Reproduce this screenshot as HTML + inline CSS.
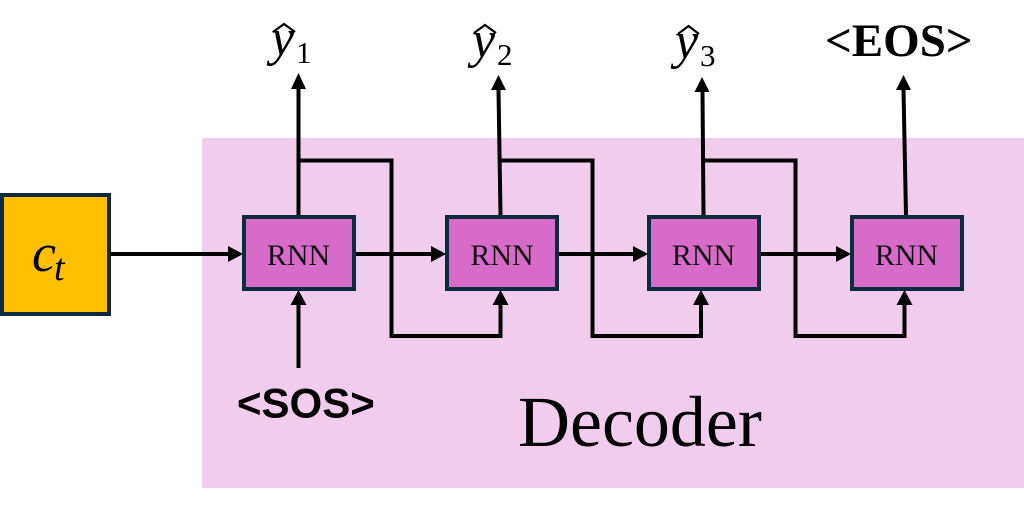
<!DOCTYPE html>
<html>
<head>
<meta charset="utf-8">
<style>
html,body{margin:0;padding:0;background:#fff;width:1024px;height:507px;overflow:hidden}
svg{display:block}
</style>
</head>
<body>
<svg width="1024" height="507" viewBox="0 0 1024 507" xmlns="http://www.w3.org/2000/svg">
<rect width="1024" height="507" fill="#fff"/>
<rect x="202" y="138" width="822" height="350" fill="#F1CDED"/>
<rect x="2" y="195" width="107" height="119" fill="#FFC000" stroke="#0E2A3E" stroke-width="4"/>
<g fill="none" stroke="#000" stroke-width="4">
<path d="M110 254H232"/>
<path d="M356 254H435"/>
<path d="M559 254H638"/>
<path d="M761 254H841"/>
<path d="M298.500 215V88"/>
<path d="M500.500 215L498.500 90"/>
<path d="M703.500 215L702.500 92"/>
<path d="M906 215L903.500 90"/>
<path d="M298.500 160.500H391.500V336H500.500V304"/>
<path d="M500.500 160.500H592.500V336H701V304"/>
<path d="M703 160.500H795.500V336H904.500V304"/>
<path d="M298.500 368V304"/>
</g>
<g fill="#000">
<path d="M243 254L228 246V262Z"/>
<path d="M446 254L431 246V262Z"/>
<path d="M648 254L633 246V262Z"/>
<path d="M851 254L836 246V262Z"/>
<path d="M298.500 73L291 89H306Z"/>
<path d="M498.500 75L491 90H506Z"/>
<path d="M702 77L694.500 92H709.500Z"/>
<path d="M903.500 75L896 90H911Z"/>
<path d="M298.500 290L290.500 305H306.500Z"/>
<path d="M500.500 290L492.500 305H508.500Z"/>
<path d="M701 290L693 305H709Z"/>
<path d="M904.500 290L896.500 305H912.500Z"/>
</g>
<g fill="#D66BC9" stroke="#0E2A3E" stroke-width="4">
<rect x="244" y="217" width="110" height="72"/>
<rect x="447" y="217" width="110" height="72"/>
<rect x="649" y="217" width="110" height="72"/>
<rect x="852" y="217" width="110" height="72"/>
</g>
<g font-family="'Liberation Serif',serif" font-size="30" fill="#111" text-anchor="middle">
<text x="298.500" y="265">RNN</text>
<text x="502" y="265">RNN</text>
<text x="703.500" y="265">RNN</text>
<text x="906.500" y="265">RNN</text>
</g>
<g font-family="'Liberation Serif',serif" fill="#000">
<text x="32" y="271" font-size="54" font-style="italic">c</text>
<text x="54" y="280" font-size="38" font-style="italic">t</text>
<text x="271" y="55" font-size="52" font-style="italic">y</text>
<text x="296" y="63" font-size="31">1</text>
<text x="472" y="57" font-size="52" font-style="italic">y</text>
<text x="497" y="65" font-size="31">2</text>
<text x="675" y="58" font-size="52" font-style="italic">y</text>
<text x="700" y="66" font-size="31">3</text>
<text x="825" y="56" font-size="47" font-weight="bold">&lt;EOS&gt;</text>
<text x="518" y="446" font-size="72">Decoder</text>
</g>
<g fill="none" stroke="#000" stroke-width="2.200">
<path d="M273 32L284 24L295 32"/>
<path d="M474 33L485 25L496 33"/>
<path d="M678 34L688.500 26L699 34"/>
</g>
<text x="237" y="417.500" font-family="'Liberation Sans',sans-serif" font-size="42" font-weight="bold" fill="#000">&lt;SOS&gt;</text>
</svg>
</body>
</html>
